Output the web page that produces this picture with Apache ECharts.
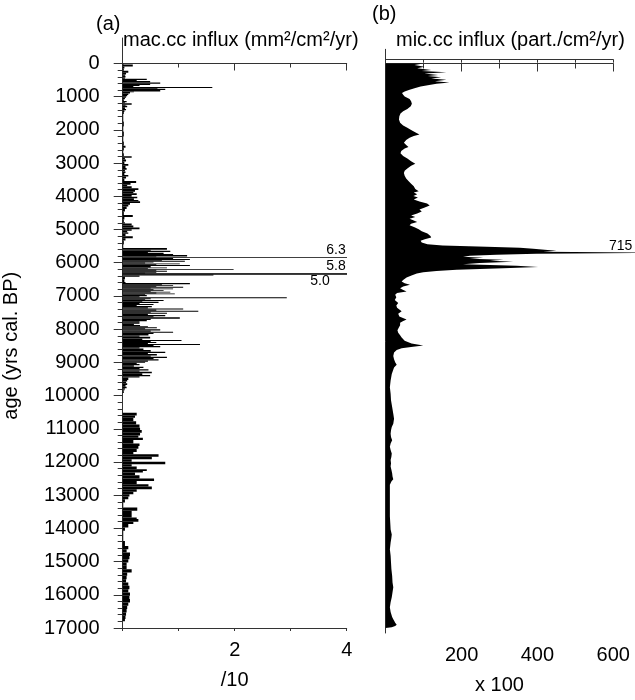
<!DOCTYPE html>
<html>
<head>
<meta charset="utf-8">
<title>Charcoal influx</title>
<script src="https://cdn.jsdelivr.net/npm/echarts@6/dist/echarts.min.js"></script>
<style>
  html, body { margin: 0; padding: 0; background: #fff; }
  #chart { width: 635px; height: 700px; }
</style>
</head>
<body>
<div id="chart"></div>
<script>
// ---- data -------------------------------------------------------------
// Age axis (yrs cal. BP)
const ageRange = [0, 17000];
const ageStep = 1000;

// (a) macro-charcoal influx, mm²/cm²/yr divided by 10.
// Each sample is a horizontal bar from its age down to the next sample's age.
const macRange = [0, 4];
const macAge = [
  0, 30, 90, 150, 220, 280, 330, 370, 420, 460,
  500, 530, 570, 610, 650, 670, 710, 740, 760, 800,
  840, 860, 900, 950, 990, 1030, 1080, 1130, 1170, 1200,
  1240, 1270, 1320, 1370, 1410, 1460, 1520, 1750, 1900, 2050,
  2200, 2350, 2480, 2540, 2620, 2700, 2790, 2840, 2890, 2950,
  3030, 3080, 3150, 3200, 3250, 3300, 3360, 3400, 3460, 3540,
  3600, 3650, 3700, 3760, 3810, 3860, 3910, 3960, 4010, 4060,
  4110, 4150, 4200, 4250, 4310, 4380, 4460, 4560, 4620, 4700,
  4780, 4820, 4880, 4940, 4990, 5040, 5090, 5130, 5200, 5260,
  5330, 5450,
  5560, 5610, 5640, 5680, 5700, 5740, 5770, 5810, 5835, 5860,
  5890, 5915, 5940, 5970, 5995, 6020, 6045, 6070, 6100, 6140,
  6165, 6190, 6215, 6240, 6270, 6300, 6315, 6335, 6355, 6385,
  6420, 6500, 6580, 6610, 6650, 6675, 6700, 6725, 6750, 6775,
  6800, 6825, 6850, 6875, 6900, 6925, 6950, 6975, 7010, 7040,
  7070, 7100, 7125, 7150, 7175, 7210, 7245, 7275, 7305, 7340,
  7375, 7410, 7445, 7475, 7505, 7540, 7575, 7610, 7645, 7685,
  7725, 7765, 7805, 7840, 7875, 7910, 7945, 7975, 8005, 8040,
  8075, 8110, 8145, 8190, 8230, 8280, 8325, 8355, 8390, 8420,
  8450, 8480, 8510, 8545, 8580, 8630, 8680, 8715, 8750, 8790,
  8830, 8870, 8910, 8945, 8980, 9015, 9050, 9090, 9130, 9170,
  9210, 9245, 9280, 9330, 9380, 9420, 9455, 9530, 9580, 9630,
  9680, 9735, 9780, 9815, 9850, 9885, 9920,
  10520, 10600, 10670, 10770, 10870, 10970, 11040, 11120, 11200, 11270,
  11340, 11440, 11520, 11600, 11700, 11770, 11840, 11920, 11990, 12070,
  12140, 12220, 12270, 12320, 12400, 12500, 12570, 12670, 12740, 12820,
  12900, 12970, 13040, 13120, 13220, 13370, 13470, 13570, 13670, 13720,
  13800, 13870, 13970, 14070, 14380, 14530, 14630, 14730, 14830, 14930,
  15030, 15110, 15230, 15330, 15430, 15530, 15630, 15730, 15830, 15930,
  16030, 16130, 16230, 16330, 16430, 16530, 16630, 16730, 16800
];
const macVal = [
  0.02, 0.18, 0.03, 0.02, 0.10, 0.06, 0.04, 0.05, 0.04, 0.43,
  0.25, 0.49, 0.67, 0.49, 0.30, 0.19, 1.60, 0.62, 0.76, 0.67,
  0.20, 0.13, 0.10, 0.08, 0.06, 0.04, 0.02, 0.07, 0.04, 0.16,
  0.05, 0.08, 0.04, 0.06, 0.03, 0.02, 0.01, 0.02, 0.01, 0.02,
  0.01, 0.02, 0.05, 0.02, 0.01, 0.02, 0.16, 0.04, 0.06, 0.03,
  0.10, 0.05, 0.07, 0.04, 0.05, 0.03, 0.10, 0.06, 0.03, 0.24,
  0.14, 0.08, 0.16, 0.28, 0.22, 0.19, 0.25, 0.16, 0.26, 0.20,
  0.28, 0.31, 0.13, 0.10, 0.07, 0.04, 0.02, 0.18, 0.03, 0.02,
  0.04, 0.16, 0.19, 0.30, 0.16, 0.08, 0.10, 0.05, 0.18, 0.05,
  0.02, 0.01,
  0.79, 0.50, 0.85, 0.45, 0.73, 0.90, 1.15, 0.60, 6.3, 0.90,
  1.20, 0.70, 1.11, 0.55, 0.40, 1.02, 0.60, 1.20, 0.50, 0.79,
  0.45, 1.98, 0.60, 0.79, 0.60, 0.40, 5.8, 5.0, 1.62, 0.30,
  0.04, 0.03, 0.05, 1.20, 0.70, 0.90, 0.60, 1.08, 0.50, 0.90,
  0.55, 0.73, 0.50, 0.85, 0.60, 0.93, 0.40, 0.43, 0.30, 2.93,
  0.50, 0.40, 0.73, 0.35, 0.64, 0.30, 0.55, 0.25, 0.52, 0.45,
  1.08, 0.60, 1.35, 0.50, 0.79, 0.45, 0.76, 0.55, 1.02, 0.50,
  0.43, 0.30, 0.30, 0.20, 0.31, 0.45, 0.61, 0.40, 0.67, 0.50,
  0.90, 0.55, 0.46, 0.30, 0.49, 0.35, 1.05, 0.50, 0.60, 0.45,
  1.38, 0.55, 0.67, 0.30, 0.37, 0.50, 0.76, 0.45, 0.61, 0.50,
  0.79, 0.55, 0.64, 0.45, 0.40, 0.25, 0.30, 0.20, 0.37, 0.30,
  0.46, 0.30, 0.52, 0.35, 0.49, 0.30, 0.10, 0.08, 0.06, 0.08,
  0.05, 0.07, 0.04, 0.03, 0.02, 0.02, 0,
  0.25, 0.22, 0.19, 0.24, 0.30, 0.31, 0.34, 0.31, 0.28, 0.36,
  0.19, 0.30, 0.28, 0.25, 0.19, 0.64, 0.52, 0.16, 0.76, 0.16,
  0.25, 0.43, 0.36, 0.22, 0.30, 0.56, 0.25, 0.46, 0.52, 0.25,
  0.19, 0.12, 0.10, 0.04, 0.01, 0.26, 0.16, 0.16, 0.25, 0.28,
  0.19, 0.10, 0.04, 0.01, 0.04, 0.10, 0.07, 0.13, 0.12, 0.10,
  0.07, 0.07, 0.16, 0.08, 0.07, 0.06, 0.10, 0.12, 0.10, 0.13,
  0.12, 0.13, 0.10, 0.08, 0.07, 0.06, 0.05, 0.04, 0
];

// (b) micro-charcoal influx, particles/cm²/yr in hundreds.
const micRange = [0, 600];
const micAge = [
  0, 45, 95, 146, 196, 226, 266, 306, 346, 377,
  417, 457, 497, 537, 577, 617, 658, 698, 748, 798,
  848, 898, 949, 999, 1079, 1150, 1220, 1300, 1381, 1451,
  1521, 1601, 1702, 1802, 1882, 1953, 2023, 2103, 2154, 2204,
  2254, 2324, 2405, 2475, 2535, 2585, 2656, 2726, 2806, 2887,
  2967, 3047, 3107, 3188, 3258, 3328, 3408, 3489, 3569, 3649,
  3730, 3810, 3880, 3921, 3971, 4021, 4071, 4131, 4192, 4252,
  4312, 4372, 4433, 4493, 4553, 4613, 4663, 4714, 4764, 4814,
  4864, 4914, 4975, 5035, 5095, 5165, 5236, 5286, 5336, 5386,
  5437, 5487, 5530, 5567, 5597, 5627, 5658, 5688, 5718, 5748,
  5778, 5808, 5838, 5868, 5899, 5929, 5959, 5989, 6019, 6059,
  6099, 6139, 6180, 6220, 6260, 6300, 6340, 6380, 6440, 6501,
  6571, 6621, 6671, 6722, 6772, 6822, 6870, 6922, 6973, 7023,
  7100, 7180, 7274, 7350, 7420, 7525, 7600, 7680, 7776, 7826,
  7876, 7950, 8030, 8100, 8180, 8250, 8320, 8420, 8500, 8560,
  8600, 8650, 8700, 8780, 8880, 8980, 9070, 9151, 9230, 9330,
  9430, 9630, 9834, 10030, 10230, 10430, 10637, 10790, 10940, 11040,
  11140, 11240, 11340, 11440, 11540, 11641, 11740, 11840, 11940, 12040,
  12140, 12240, 12340, 12440, 12545, 12625, 12695, 12795, 12950, 13150,
  13348, 13550, 13750, 13950, 14150, 14302, 14400, 14550, 14754, 14950,
  15150, 15350, 15557, 15760, 15908, 16060, 16210, 16360, 16510, 16660,
  16810, 16880, 16940, 16982, 17042, 17080, 17120, 17143
];
const micVal = [
  98, 76, 102, 83, 120, 95, 160, 102, 138, 111,
  146, 120, 160, 130, 168, 134, 111, 92, 76, 63,
  50, 43, 46, 50, 63, 67, 69, 66, 57, 46,
  39, 36, 35, 38, 46, 57, 67, 80, 89, 74,
  63, 54, 48, 54, 60, 50, 41, 39, 46, 57,
  67, 78, 67, 57, 50, 48, 50, 54, 60, 67,
  74, 78, 87, 74, 83, 73, 85, 74, 89, 109,
  116, 103, 89, 95, 83, 67, 78, 63, 74, 83,
  67, 63, 76, 87, 95, 110, 118, 120, 103, 92,
  95, 110, 150, 266, 354, 389, 419, 450, 415, 715,
  397, 292, 222, 204, 257, 222, 310, 275, 336, 248,
  204, 345, 402, 310, 187, 134, 99, 82, 68, 55,
  46, 42, 50, 64, 46, 38, 45, 55, 30, 25,
  28, 24, 33, 28, 30, 42, 33, 36, 55, 45,
  38, 38, 34, 31, 33, 38, 42, 50, 68, 99,
  72, 42, 29, 22, 20, 22, 25, 29, 22, 19,
  16, 13, 11, 13, 14, 17, 20, 22, 20, 16,
  14, 13, 14, 17, 13, 11, 13, 16, 15, 13,
  14, 13, 15, 17, 18, 20, 15, 11, 11, 11,
  11, 11, 11, 12, 13, 16, 15, 13, 11, 13,
  14, 15, 17, 18, 20, 18, 16, 13, 11, 13,
  17, 20, 23, 25, 29, 25, 16, 0
];

// ---- styling ----------------------------------------------------------
const FONT = '"Liberation Sans", Arial, Helvetica, sans-serif';
const INK = '#000';
const AXIS = '#333';
const lineStyle = { color: AXIS, width: 1 };

// placement of the value labels on off-scale samples (in draw order)
const macPeakPlace = [
  { dx: -1, dy: 0, va: 'bottom' },
  { dx: -1, dy: 0, va: 'bottom' },
  { dx: -17, dy: 0, va: 'top' }
];
const micPeakPlace = [{ dx: 19, dy: 0, va: 'bottom' }];

// samples that run past the axis maximum
const macPeaks = macAge.map((a, i) => [macVal[i], a]).filter(d => d[0] > macRange[1]);
const micPeaks = micAge.map((a, i) => [micVal[i], a]).filter(d => d[0] > micRange[1]);

// bar data: [value, top age, bottom age]
const macBars = macAge.map((a, i) => [macVal[i], a, i < macAge.length - 1 ? macAge[i + 1] : a + 40]);

function hideAll(extra) {
  return Object.assign({
    axisLine: { show: false }, axisTick: { show: false },
    axisLabel: { show: false }, splitLine: { show: false }
  }, extra);
}
function lineOnly(extra) {
  return Object.assign({
    axisLine: { show: true, lineStyle },
    axisTick: { show: false },
    axisLabel: { show: false },
    splitLine: { show: false }
  }, extra);
}

function peakLabels(places, fmt) {
  return function (params, api) {
    const p = places[params.dataIndex] || { dx: 0, dy: 0, va: 'bottom' };
    const pt = api.coord([api.value(2), api.value(1)]);
    return {
      type: 'text',
      x: pt[0] + p.dx,
      y: pt[1] + p.dy,
      style: {
        text: fmt(api.value(0)),
        fontSize: 14,
        fontFamily: FONT,
        fill: INK,
        align: 'right',
        verticalAlign: p.va
      }
    };
  };
}

const plainNumber = v => (v === 0 ? '' : String(v));

const chart = echarts.init(document.getElementById('chart'), null, { renderer: 'canvas' });

const option = {
  animation: false,
  backgroundColor: '#fff',
  textStyle: { fontFamily: FONT },
  title: [
    { text: '(a)', left: 96, top: 14, padding: 0,
      textStyle: { fontSize: 20, fontWeight: 'normal', color: INK, fontFamily: FONT } },
    { text: 'mac.cc influx (mm²/cm²/yr)', left: 123, top: 30, padding: 0,
      textStyle: { fontSize: 20, fontWeight: 'normal', color: INK, fontFamily: FONT } },
    { text: '(b)', left: 372, top: 4, padding: 0,
      textStyle: { fontSize: 20, fontWeight: 'normal', color: INK, fontFamily: FONT } },
    { text: 'mic.cc influx (part./cm²/yr)', left: 396, top: 30, padding: 0,
      textStyle: { fontSize: 20, fontWeight: 'normal', color: INK, fontFamily: FONT } }
  ],
  grid: [
    { left: 122.7, top: 63.5, width: 224, height: 564.5 },   // (a) plot area
    { left: 122.7, top: 56, width: 224, height: 572 },       // (a) frame, top + right
    { left: 122.7, top: 38, width: 224, height: 590 },       // (a) left edge
    { left: 385.7, top: 63.5, width: 227.6, height: 564.5 }, // (b) plot area
    { left: 385.7, top: 49.3, width: 227.6, height: 583.7 }  // (b) left edge
  ],
  xAxis: [
    { // (a) bottom scale
      gridIndex: 0, type: 'value', position: 'bottom',
      min: macRange[0], max: macRange[1], interval: 2,
      axisLine: { show: true, lineStyle },
      axisTick: { show: true, length: 7, lineStyle },
      minorTick: { show: true, splitNumber: 2, length: 4, lineStyle },
      splitLine: { show: false }, minorSplitLine: { show: false },
      axisLabel: { show: true, fontSize: 20, margin: 12, color: INK, fontFamily: FONT,
        formatter: plainNumber },
      name: '/10', nameLocation: 'middle', nameGap: 42,
      nameTextStyle: { fontSize: 20, color: INK, fontFamily: FONT }
    },
    { // (a) top edge
      gridIndex: 1, type: 'value', position: 'top',
      min: macRange[0], max: macRange[1], interval: 1,
      axisLine: { show: true, lineStyle },
      axisTick: { show: true, inside: true, length: 3, lineStyle },
      axisLabel: { show: false }, splitLine: { show: false }
    },
    hideAll({ gridIndex: 2, type: 'value', min: 0, max: 1 }),
    { // (b) bottom scale
      gridIndex: 3, type: 'value', position: 'bottom', offset: 9.7,
      min: micRange[0], max: micRange[1], interval: 200,
      axisLine: { show: true, lineStyle },
      axisTick: { show: true, length: 8, lineStyle },
      minorTick: { show: true, splitNumber: 2, length: 5, lineStyle },
      splitLine: { show: false }, minorSplitLine: { show: false },
      axisLabel: { show: true, fontSize: 20, margin: 12, color: INK, fontFamily: FONT,
        formatter: plainNumber },
      name: 'x 100', nameLocation: 'middle', nameGap: 42,
      nameTextStyle: { fontSize: 20, color: INK, fontFamily: FONT }
    },
    { // (b) top edge
      gridIndex: 3, type: 'value', position: 'top', offset: 3.8,
      min: micRange[0], max: micRange[1], interval: 100,
      axisLine: { show: true, lineStyle },
      axisTick: { show: true, inside: true, length: 3, lineStyle },
      axisLabel: { show: false }, splitLine: { show: false }
    },
    hideAll({ gridIndex: 4, type: 'value', min: 0, max: 1 })
  ],
  yAxis: [
    { // shared age scale, drawn beside panel (a)
      gridIndex: 0, type: 'value', position: 'left', offset: 11, inverse: true,
      min: ageRange[0], max: ageRange[1], interval: ageStep,
      axisLine: { show: true, lineStyle },
      axisTick: { show: true, length: 9, lineStyle },
      minorTick: { show: true, splitNumber: 5, length: 5, lineStyle },
      splitLine: { show: false }, minorSplitLine: { show: false },
      axisLabel: { show: true, fontSize: 20, margin: 12, color: INK, fontFamily: FONT,
        formatter: v => String(v) },
      name: 'age (yrs cal. BP)', nameLocation: 'middle', nameGap: 90, nameRotate: 90,
      nameTextStyle: { fontSize: 20, color: INK, fontFamily: FONT }
    },
    lineOnly({ gridIndex: 1, type: 'value', position: 'right', min: 0, max: 1 }),
    lineOnly({ gridIndex: 2, type: 'value', position: 'left', min: 0, max: 1 }),
    hideAll({ gridIndex: 3, type: 'value', inverse: true,
      min: ageRange[0], max: ageRange[1] }),
    lineOnly({ gridIndex: 4, type: 'value', position: 'left', min: 0, max: 1 })
  ],
  series: [
    { // (a) horizontal bars
      type: 'custom', name: 'mac.cc', xAxisIndex: 0, yAxisIndex: 0, clip: true,
      data: macBars,
      encode: { x: 0, y: [1, 2] },
      renderItem(params, api) {
        const v = api.value(0);
        if (!(v > 0)) return null;
        const p0 = api.coord([0, api.value(1)]);
        const p1 = api.coord([v, api.value(2)]);
        return {
          type: 'rect',
          shape: { x: p0[0], y: p0[1], width: p1[0] - p0[0], height: Math.max(p1[1] - p0[1], 0.8) },
          style: { fill: INK }
        };
      }
    },
    { // (a) values of off-scale bars
      type: 'custom', name: 'mac.cc peaks', xAxisIndex: 0, yAxisIndex: 0, clip: false,
      data: macPeaks.map(d => [d[0], d[1], macRange[1]]),
      encode: { x: 2, y: 1 },
      renderItem: peakLabels(macPeakPlace, v => v.toFixed(1))
    },
    { // (b) filled profile
      type: 'custom', name: 'mic.cc', xAxisIndex: 3, yAxisIndex: 3, clip: false,
      data: micAge.map((a, i) => [micVal[i], a]),
      encode: { x: 0, y: 1 },
      renderItem(params, api) {
        if (params.dataIndex !== 0) return null;
        const pts = [api.coord([0, micAge[0]])];
        for (let i = 0; i < micAge.length; i++) pts.push(api.coord([micVal[i], micAge[i]]));
        pts.push(api.coord([0, micAge[micAge.length - 1]]));
        return { type: 'polygon', shape: { points: pts }, style: { fill: INK } };
      }
    },
    { // (b) value of the off-scale peak
      type: 'custom', name: 'mic.cc peaks', xAxisIndex: 3, yAxisIndex: 3, clip: false,
      data: micPeaks.map(d => [d[0], d[1], micRange[1]]),
      encode: { x: 2, y: 1 },
      renderItem: peakLabels(micPeakPlace, v => String(v))
    }
  ]
};

chart.setOption(option);
</script>
</body>
</html>
